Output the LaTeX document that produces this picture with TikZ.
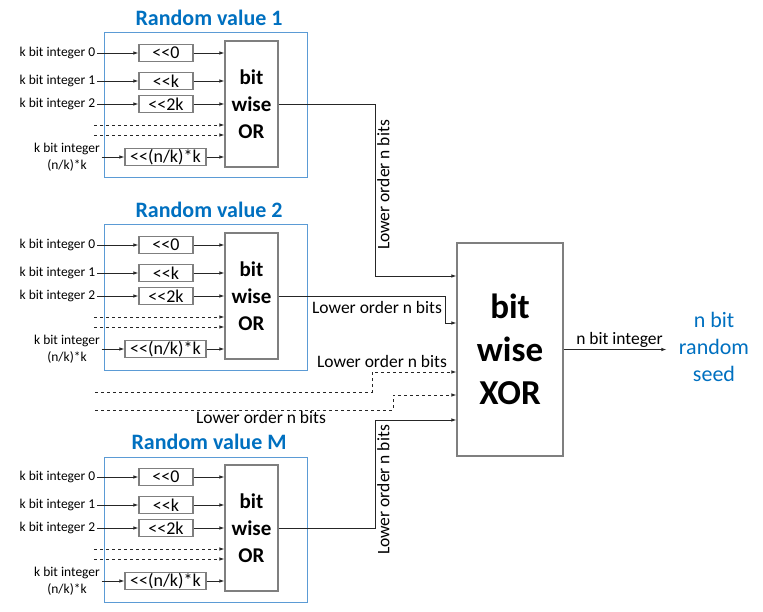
\documentclass[tikz,border=0pt]{standalone}
\usepackage{fontspec}
\setmainfont{Carlito}
\usetikzlibrary{arrows.meta, calc}

\definecolor{titleblue}{HTML}{0070C0}
\definecolor{frameblue}{HTML}{5B9BD5}
\definecolor{boxgray}{HTML}{7F7F7F}
\definecolor{wiregray}{HTML}{262626}

\newcommand\shl{<\kern0pt<}

\tikzset{
    arr/.style={-{Latex[length=5pt,width=3.5pt]}, draw=wiregray, line width=0.8pt},
    frame/.style={draw=frameblue, line width=1pt},
    title/.style={text=titleblue, font=\fontsize{22}{26}\selectfont\bfseries},
    shiftbox/.style={draw=boxgray, line width=1.2pt, minimum height=17pt,
        inner sep=0pt, font=\fontsize{18}{20}\selectfont},
    orbox/.style={draw=boxgray, line width=1.2pt, minimum width=53pt,
        minimum height=126pt, align=center, font=\fontsize{21}{27}\selectfont\bfseries},
    xorbox/.style={draw=boxgray, line width=1.2pt, minimum width=106pt,
        minimum height=213pt, align=center, font=\fontsize{35}{43}\selectfont\bfseries},
    inlabel/.style={font=\fontsize{13.5}{17}\selectfont, inner sep=1.5pt},
    wirelabel/.style={font=\fontsize{17.5}{21}\selectfont, inner sep=2pt},
    % one "Random value" block, origin at the frame's top left corner
    orblock/.pic={
        \draw[frame] (0,0) rectangle (203,145);
        \node[title] (-title) at (105,-15) {#1};
        \node[orbox] (-or) at (147.5,71) {bit\\wise\\OR};
        \foreach \y/\sh/\i in {20/0/0, 48/k/1, 71/2k/2} {
            \node[inlabel, anchor=east] (-in\i) at (-7,\y) {k bit integer \i};
            \node[shiftbox, minimum width=54pt] (-sh\i) at (62,\y) {\shl\sh};
            \draw[arr] (-in\i) -- (-sh\i);
            \draw[arr] (-sh\i) -- (-sh\i -| -or.west);
        }
        \foreach \y in {92,102} {
            \coordinate (-d\y) at (-10,\y);
            \draw[arr, dashed] (-d\y) -- (-d\y -| -or.west);
        }
        \node[inlabel, align=center] (-inN) at (-37,124) {k bit integer\\(n/k)*k};
        \node[shiftbox, minimum width=81pt] (-shN) at (61.5,124) {\shl(n/k)*k};
        \draw[arr] (-inN.east) -- (-inN.east -| -shN.west);
        \draw[arr] (-shN) -- (-shN -| -or.west);
    },
}

\begin{document}
\begin{tikzpicture}[x=1pt, y=-1pt]
    \useasboundingbox (0,0) rectangle (763,612);

    \pic (rv1) at (104,33) {orblock={Random value 1}};
    \pic (rv2) at (104,225) {orblock={Random value 2}};
    \pic (rvM) at (104,457) {orblock={Random value M}};

    \node[xorbox] (xor) at (510,349.5) {bit\\wise\\XOR};
    \node[text=titleblue, align=center, font=\fontsize{22}{27}\selectfont] (seed)
        at (714,347) {n bit\\random\\seed};

    % lower order bits into the XOR
    \draw[arr] (rv1-or.east) -| (375,276) -- (xor.west |- 0,276);
    \node[wirelabel, rotate=90, anchor=north] (lo1) at (375,185) {Lower order n bits};

    \draw[arr] (rv2-or.east) -| (445,323) -- (xor.west |- 0,323);
    \node[wirelabel, anchor=north] (lo2) at (377,299) {Lower order n bits};

    \coordinate (d1) at (95,392);
    \draw[arr, dashed] (d1) -| (372,372) -- (xor.west |- 0,372);
    \node[wirelabel, anchor=south] (lo3) at (382,370) {Lower order n bits};

    \coordinate (d2) at (95,410);
    \draw[arr, dashed] (d2) -| (393,395) -- (xor.west |- 0,395);
    \node[wirelabel, anchor=north] (lo4) at (261,409) {Lower order n bits};

    \draw[arr] (rvM-or.east) -| (375,420) -- (xor.west |- 0,420);
    \node[wirelabel, rotate=90, anchor=north] (loM) at (375,490) {Lower order n bits};

    \draw[arr, shorten >=9pt] (xor.east) -- (xor.east -| seed.west)
        node[midway, above, wirelabel] (nint) {n bit integer};
\end{tikzpicture}
\end{document}
